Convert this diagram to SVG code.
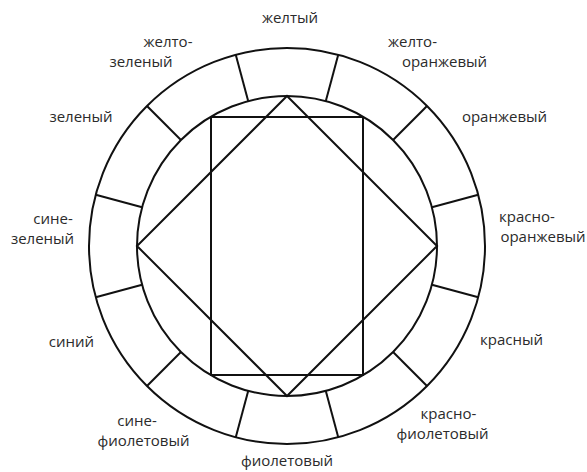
<svg xmlns="http://www.w3.org/2000/svg" width="587" height="472" viewBox="0 0 587 472">
<style>
.ln{fill:none;stroke:#111;stroke-width:2}
.t{font-family:"Open Sans","Noto Sans","DejaVu Sans",sans-serif;font-size:15px;fill:#2b2b2b;text-anchor:middle}
</style>
<rect width="587" height="472" fill="#fff"/>
<g id="wheel">
<circle class="ln" cx="287" cy="246" r="198"/>
<circle class="ln" cx="287" cy="246" r="150"/>
</g>
<g id="dividers" class="ln">
<line x1="325.82" y1="101.11" x2="338.24" y2="54.75"/>
<line x1="393.07" y1="139.93" x2="427.01" y2="105.99"/>
<line x1="431.89" y1="207.18" x2="478.25" y2="194.76"/>
<line x1="431.89" y1="284.82" x2="478.25" y2="297.24"/>
<line x1="393.07" y1="352.07" x2="427.01" y2="386.01"/>
<line x1="325.82" y1="390.89" x2="338.24" y2="437.25"/>
<line x1="248.18" y1="390.89" x2="235.76" y2="437.25"/>
<line x1="180.93" y1="352.07" x2="146.99" y2="386.01"/>
<line x1="142.11" y1="284.82" x2="95.75" y2="297.24"/>
<line x1="142.11" y1="207.18" x2="95.75" y2="194.76"/>
<line x1="180.93" y1="139.93" x2="146.99" y2="105.99"/>
<line x1="248.18" y1="101.11" x2="235.76" y2="54.75"/>
</g>
<g id="rectangle"><rect class="ln" x="211" y="117" width="152" height="258"/></g>
<g id="square"><polygon class="ln" stroke-linejoin="miter" points="287,96 437,246 287,396 137,246"/></g>
<g id="labels" class="t">
<text x="290" y="23">желтый</text>
<text x="412.5" y="47">желто-</text>
<text x="444.5" y="67">оранжевый</text>
<text x="504.5" y="122">оранжевый</text>
<text x="527" y="222">красно-</text>
<text x="543" y="242">оранжевый</text>
<text x="511.5" y="345">красный</text>
<text x="448.5" y="419">красно-</text>
<text x="442.5" y="439">фиолетовый</text>
<text x="287" y="466">фиолетовый</text>
<text x="137" y="426">сине-</text>
<text x="143.5" y="446">фиолетовый</text>
<text x="71.5" y="347">синий</text>
<text x="53" y="224">сине-</text>
<text x="42.5" y="244">зеленый</text>
<text x="81" y="122">зеленый</text>
<text x="168" y="47">желто-</text>
<text x="141" y="67">зеленый</text>
</g>
</svg>
